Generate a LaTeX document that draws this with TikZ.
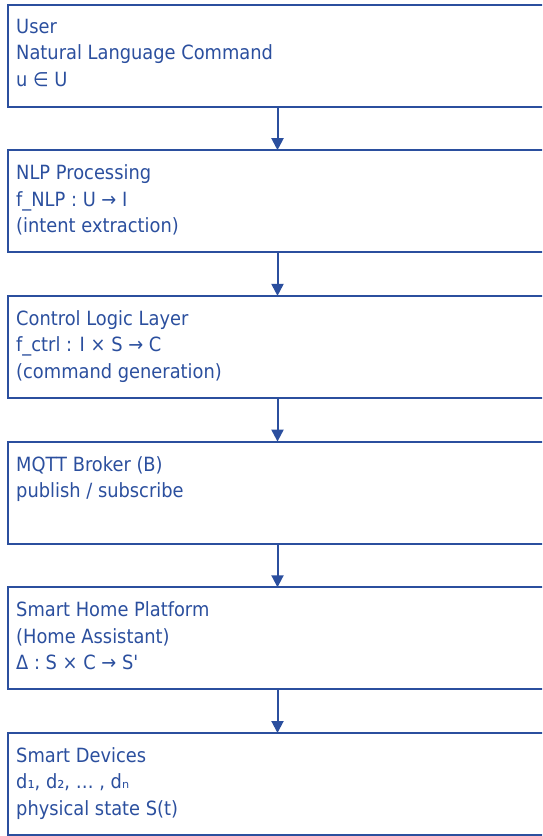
\documentclass[tikz,border=0pt]{standalone}
\usepackage{fontspec}
\newfontfamily\layerfont{DejaVu Sans}[FakeStretch=0.91]
\usetikzlibrary{positioning,arrows.meta}
\definecolor{flowblue}{HTML}{2B4F9E}

\tikzset{
  layer/.style={draw=flowblue, line width=2pt, minimum width=540pt,
    minimum height=102pt, outer sep=0pt, inner sep=0pt},
  layertext/.style={anchor=north west, inner sep=0pt, align=left,
    text=flowblue, font=\layerfont\fontsize{19.6pt}{26.3pt}\selectfont},
  flow/.style={draw=flowblue, line width=2pt,
    -{Triangle[width=12pt,length=12pt]}},
}

\begin{document}
\begin{tikzpicture}[node distance=43.7pt]
  \useasboundingbox (0,0) rectangle (542pt,-836pt);
  \clip (0,0) rectangle (542pt,-836pt);

  % Layers
  \node[layer, anchor=north west] (user) at (7.5pt,-4.5pt) {};
  \node[layer, below=of user] (nlp) {};
  \node[layer, below=of nlp] (ctrl) {};
  \node[layer, below=of ctrl] (mqtt) {};
  \node[layer, below=of mqtt] (home) {};
  \node[layer, below=of home] (devices) {};

  % Texts
  \node[layertext] (user-t) at ([xshift=8.5pt,yshift=-14.5pt]user.north west)
    {User\\Natural Language Command\\u ∈ U};
  \node[layertext] (nlp-t) at ([xshift=8.5pt,yshift=-14.5pt]nlp.north west)
    {NLP Processing\\f\_NLP : U → I\\(intent extraction)};
  \node[layertext] (ctrl-t) at ([xshift=8.5pt,yshift=-14.5pt]ctrl.north west)
    {Control Logic Layer\\f\_ctrl : I × S → C\\(command generation)};
  \node[layertext] (mqtt-t) at ([xshift=8.5pt,yshift=-14.5pt]mqtt.north west)
    {MQTT Broker (B)\\publish / subscribe};
  \node[layertext] (home-t) at ([xshift=8.5pt,yshift=-14.5pt]home.north west)
    {Smart Home Platform\\(Home Assistant)\\Δ : S × C → S'};
  \node[layertext] (devices-t) at ([xshift=8.5pt,yshift=-14.5pt]devices.north west)
    {Smart Devices\\d₁, d₂, … , dₙ\\physical state S(t)};

  % Arrows
  \draw[flow] (user) -- (nlp);
  \draw[flow] (nlp) -- (ctrl);
  \draw[flow] (ctrl) -- (mqtt);
  \draw[flow] (mqtt) -- (home);
  \draw[flow] (home) -- (devices);
\end{tikzpicture}
\end{document}
